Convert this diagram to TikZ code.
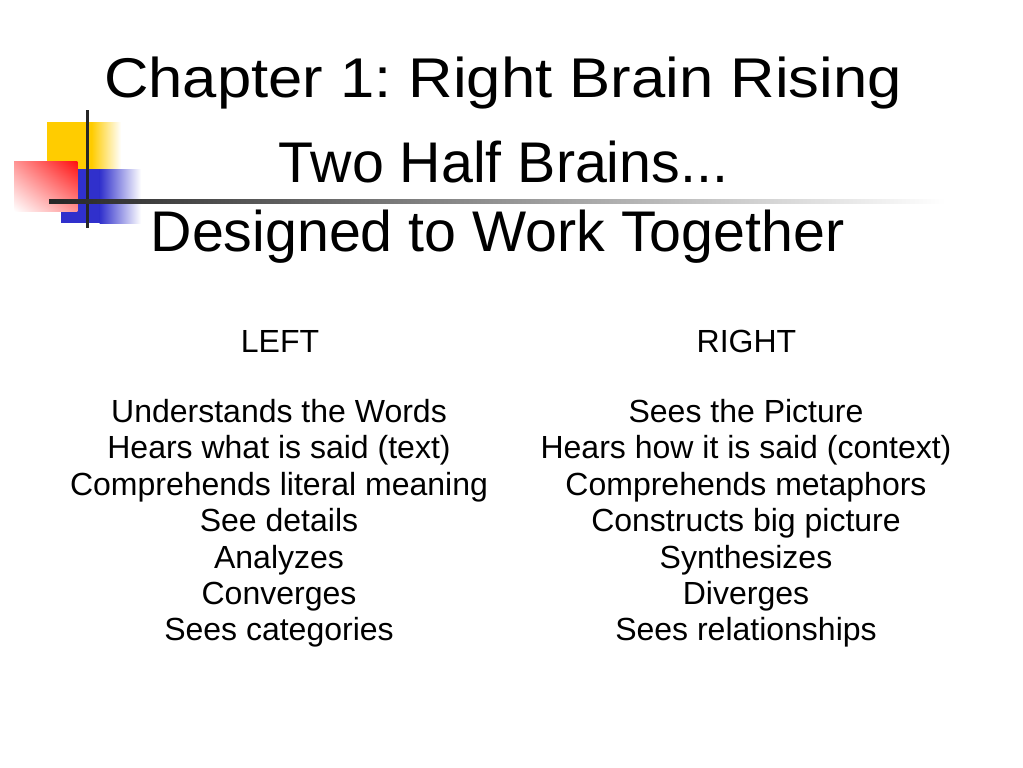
\documentclass[tikz,border=0pt]{standalone}
\usepackage{fontspec}
\setmainfont{Liberation Sans}
\usetikzlibrary{shadings}
\frenchspacing
\definecolor{logoyellow}{HTML}{FFCC00}
\definecolor{logoblue}{HTML}{3030CC}
\definecolor{logored}{HTML}{FF1010}
\definecolor{rulegray}{HTML}{262626}
\begin{document}
\begin{tikzpicture}[x=0.75pt,y=-0.75pt,
  titletext/.style={anchor=base,inner sep=0pt,font=\fontsize{43pt}{50pt}\selectfont},
  bodytext/.style={anchor=base,inner sep=0pt,font=\fontsize{24pt}{28pt}\selectfont}]
\useasboundingbox[fill=white] (0,0) rectangle (1023,767);
% logo
\fill[logoyellow] (46.7,122.3) rectangle (92,172);
\shade[left color=logoyellow,right color=white] (91.5,122.3) rectangle (121,172);
\fill[logoblue] (60.7,169) rectangle (100,223.3);
\shade[left color=logoblue,right color=white] (99.5,169) rectangle (141,223.3);
\shade[upper right=logored,upper left=logored!45,lower right=logored!45,lower left=white] (14,161) rectangle (77.3,211);
\draw[rulegray,line width=2.3pt] (87.3,110) -- (87.3,228);
\shade[left color=rulegray,right color=white] (49,199) rectangle (945,203);
% titles
\node[titletext] (chap) at (503,97) {\fontsize{42pt}{50pt}\selectfont\scalebox{1.1}[1]{Chapter 1: Right Brain Rising}};
\node[titletext] (two) at (503.5,182) {Two Half Brains...};
\node[titletext] (design) at (497.5,251) {Designed to Work Together};
% left column
\node[bodytext] (lhead) at (280,352.5) {LEFT};
\node[bodytext] (l1) at (279,422.8) {Understands the Words};
\node[bodytext] (l2) at (279,458.8) {Hears what is said (text)};
\node[bodytext] (l3) at (279,495.2) {Comprehends literal meaning};
\node[bodytext] (l4) at (279,531.6) {See details};
\node[bodytext] (l5) at (279,568) {Analyzes};
\node[bodytext] (l6) at (279,604.4) {Converges};
\node[bodytext] (l7) at (279,640.8) {Sees categories};
% right column
\node[bodytext] (rhead) at (746.5,352.5) {RIGHT};
\node[bodytext] (r1) at (746,422.8) {Sees the Picture};
\node[bodytext] (r2) at (746,458.8) {Hears how it is said (context)};
\node[bodytext] (r3) at (746,495.2) {Comprehends metaphors};
\node[bodytext] (r4) at (746,531.6) {Constructs big picture};
\node[bodytext] (r5) at (746,568) {Synthesizes};
\node[bodytext] (r6) at (746,604.4) {Diverges};
\node[bodytext] (r7) at (746,640.8) {Sees relationships};
\end{tikzpicture}
\end{document}
